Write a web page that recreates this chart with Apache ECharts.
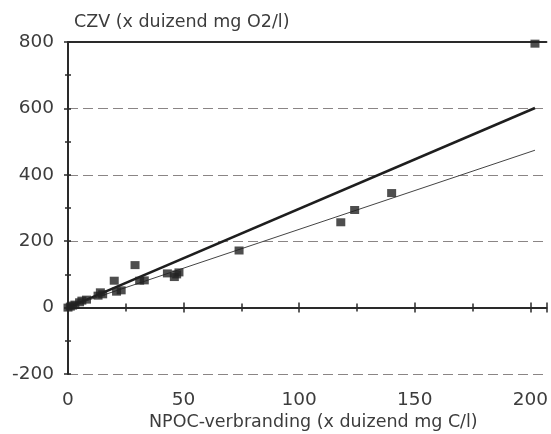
<!DOCTYPE html>
<html>
<head>
<meta charset="utf-8">
<script src="https://cdn.jsdelivr.net/npm/echarts@6/dist/echarts.min.js"></script>
<style>
  html, body { margin: 0; padding: 0; background: #ffffff; }
  #chart { width: 551px; height: 434px; }
</style>
</head>
<body>
<div id="chart"></div>
<script>
// Measured samples: NPOC (x1000 mg C/l) against CZV (x1000 mg O2/l)
const npoc = [0, 1, 2, 3, 5, 6, 8, 13, 14, 15, 20, 21, 23, 29, 31, 33, 43, 46, 47, 48, 74, 118, 124, 140, 202];
const czv  = [0, 3, 6, 9, 16, 21, 24, 36, 46, 40, 81, 48, 52, 128, 81, 82, 103, 92, 100, 106, 172, 257, 294, 345, 795];

// Two reference lines (end points)
const steepLineX = [0, 202];
const steepLineY = [0, 601];
const flatLineX  = [0, 202];
const flatLineY  = [2, 474];

// Axis ranges and ticks
const xMin = 0, xMax = 207, xStep = 50;
const yMin = -200, yMax = 800, yStep = 200;

const yTitle = 'CZV (x duizend mg O2/l)';
const xTitle = 'NPOC-verbranding (x duizend mg C/l)';

const FONT = 'DejaVu Sans';
const INK = '#3c3c3c';

const pairs = (xs, ys) => xs.map((x, i) => [x, ys[i]]);

const chart = echarts.init(document.getElementById('chart'), null, { renderer: 'canvas' });

const baseX = { type: 'value', min: xMin, max: xMax, interval: xStep };
const baseY = { type: 'value', min: yMin, max: yMax, interval: yStep };

chart.setOption({
  animation: false,
  backgroundColor: '#ffffff',
  grid: { left: 68, right: 3, top: 42, bottom: 60, containLabel: false },
  title: {
    text: yTitle,
    left: 69, top: 8,
    textStyle: { fontFamily: FONT, fontSize: 17.5, fontWeight: 'normal', color: INK }
  },
  graphic: [{
    type: 'text',
    left: 149, top: 413,
    style: { text: xTitle, font: '17.5px "DejaVu Sans"', fill: INK }
  }],
  xAxis: [
    Object.assign({}, baseX, {
      position: 'bottom',
      axisLine: { show: true, lineStyle: { color: '#2a2a2a', width: 2 } },
      axisTick: { show: true, inside: false, length: 5, lineStyle: { color: '#2a2a2a', width: 1.5 } },
      minorTick: { show: true, splitNumber: 2, length: 4, lineStyle: { color: '#2a2a2a', width: 1.5 } },
      axisLabel: { show: true, margin: 17, fontFamily: FONT, fontSize: 18.5, color: INK,
        formatter: v => (v % 50 === 0 ? String(v) : '') },
      splitLine: { show: false }
    }),
    Object.assign({}, baseX, {
      position: 'bottom',
      axisLine: { show: false },
      axisTick: { show: true, inside: true, length: 5, lineStyle: { color: '#2a2a2a', width: 1.5 } },
      minorTick: { show: true, splitNumber: 2, length: 4, lineStyle: { color: '#2a2a2a', width: 1.5 } },
      axisLabel: { show: false },
      splitLine: { show: false }
    }),
    Object.assign({}, baseX, {
      position: 'top',
      axisLine: { show: true, lineStyle: { color: '#2a2a2a', width: 1.8 } },
      axisTick: { show: false },
      axisLabel: { show: false },
      splitLine: { show: false }
    })
  ],
  yAxis: [
    Object.assign({}, baseY, {
      position: 'left',
      axisLine: { show: true, lineStyle: { color: '#2a2a2a', width: 2 } },
      axisTick: { show: true, inside: false, length: 4, lineStyle: { color: '#2a2a2a', width: 1.5 } },
      minorTick: { show: true, splitNumber: 2, length: 3, lineStyle: { color: '#2a2a2a', width: 1.5 } },
      axisLabel: { show: true, margin: 14, fontFamily: FONT, fontSize: 18.5, color: INK },
      splitLine: { show: true, lineStyle: { color: '#8a8585', width: 1.2, type: [10, 5] } }
    }),
    Object.assign({}, baseY, {
      position: 'left',
      axisLine: { show: false },
      axisTick: { show: true, inside: true, length: 3, lineStyle: { color: '#2a2a2a', width: 1.5 } },
      minorTick: { show: true, splitNumber: 2, length: 3, lineStyle: { color: '#2a2a2a', width: 1.5 } },
      axisLabel: { show: false },
      splitLine: { show: false }
    })
  ],
  series: [
    {
      name: 'steep',
      type: 'line',
      xAxisIndex: 0, yAxisIndex: 0,
      data: pairs(steepLineX, steepLineY),
      showSymbol: false, symbol: 'none',
      lineStyle: { color: '#1e1e1e', width: 2.6 },
      z: 3
    },
    {
      name: 'flat',
      type: 'line',
      xAxisIndex: 0, yAxisIndex: 0,
      data: pairs(flatLineX, flatLineY),
      showSymbol: false, symbol: 'none',
      lineStyle: { color: '#444444', width: 1 },
      z: 3
    },
    {
      name: 'samples',
      type: 'scatter',
      xAxisIndex: 0, yAxisIndex: 0,
      data: pairs(npoc, czv),
      symbol: 'rect',
      symbolSize: [9, 8],
      itemStyle: { color: '#222222' },
      clip: false,
      z: 4
    }
  ]
});
</script>
</body>
</html>
